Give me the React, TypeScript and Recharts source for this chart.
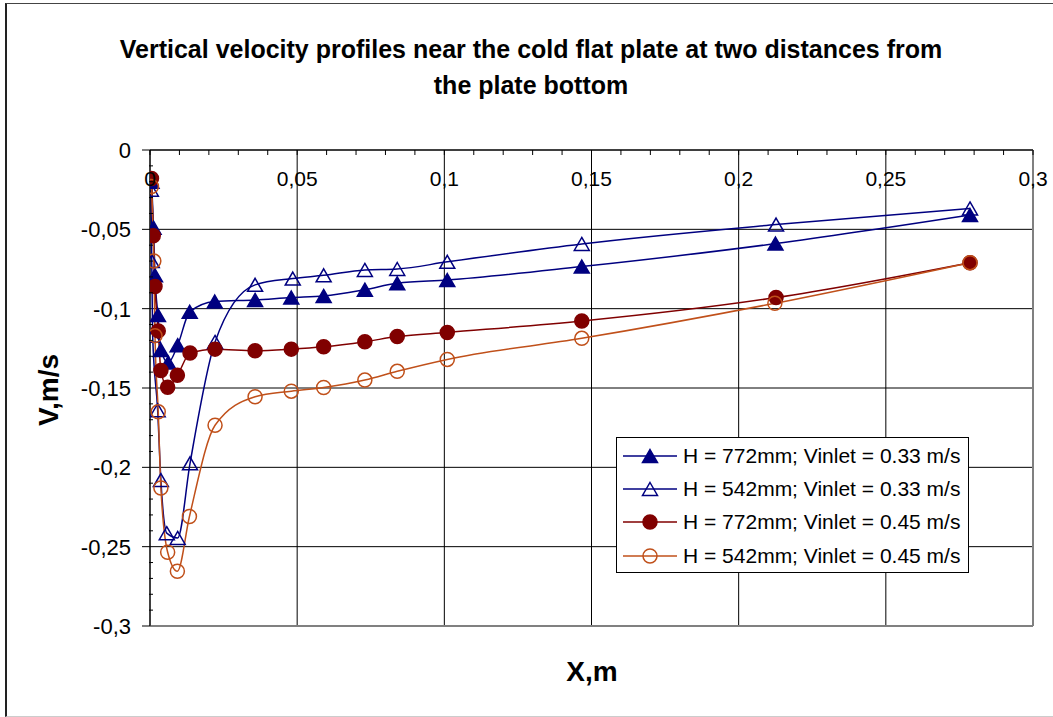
import React from "react";
import {
    LineChart,
    Line,
    XAxis,
    YAxis,
    CartesianGrid,
    Legend,
    ReferenceLine,
} from "recharts";

const FONT = "Arial, 'Liberation Sans', sans-serif";

// H = 772mm, Vinlet = 0.33 m/s
const h772v033 = [
    { x: 0.0005, v: -0.02 },
    { x: 0.0012, v: -0.049 },
    { x: 0.0017, v: -0.079 },
    { x: 0.0027, v: -0.104 },
    { x: 0.0037, v: -0.126 },
    { x: 0.0062, v: -0.134 },
    { x: 0.0094, v: -0.123 },
    { x: 0.0135, v: -0.102 },
    { x: 0.022, v: -0.0955 },
    { x: 0.0357, v: -0.0945 },
    { x: 0.048, v: -0.093 },
    { x: 0.059, v: -0.092 },
    { x: 0.073, v: -0.088 },
    { x: 0.084, v: -0.084 },
    { x: 0.101, v: -0.082 },
    { x: 0.1467, v: -0.0735 },
    { x: 0.2125, v: -0.059 },
    { x: 0.2786, v: -0.041 },
];

// H = 542mm, Vinlet = 0.33 m/s
const h542v033 = [
    { x: 0.0003, v: -0.025 },
    { x: 0.0006, v: -0.07 },
    { x: 0.0009, v: -0.117 },
    { x: 0.0026, v: -0.164 },
    { x: 0.0037, v: -0.208 },
    { x: 0.0057, v: -0.2415 },
    { x: 0.0094, v: -0.2445 },
    { x: 0.0136, v: -0.1975 },
    { x: 0.0221, v: -0.121 },
    { x: 0.0357, v: -0.085 },
    { x: 0.0485, v: -0.081 },
    { x: 0.059, v: -0.079 },
    { x: 0.073, v: -0.0756 },
    { x: 0.084, v: -0.075 },
    { x: 0.101, v: -0.0705 },
    { x: 0.1467, v: -0.0592 },
    { x: 0.2127, v: -0.047 },
    { x: 0.2786, v: -0.0368 },
];

// H = 772mm, Vinlet = 0.45 m/s
const h772v045 = [
    { x: 0.0005, v: -0.018 },
    { x: 0.0011, v: -0.054 },
    { x: 0.0017, v: -0.086 },
    { x: 0.0028, v: -0.114 },
    { x: 0.0037, v: -0.139 },
    { x: 0.006, v: -0.1495 },
    { x: 0.0093, v: -0.142 },
    { x: 0.0136, v: -0.128 },
    { x: 0.0221, v: -0.1255 },
    { x: 0.0357, v: -0.1265 },
    { x: 0.048, v: -0.1255 },
    { x: 0.059, v: -0.124 },
    { x: 0.073, v: -0.1208 },
    { x: 0.084, v: -0.1176 },
    { x: 0.101, v: -0.115 },
    { x: 0.1467, v: -0.1078 },
    { x: 0.2127, v: -0.093 },
    { x: 0.2786, v: -0.071 },
];

// H = 542mm, Vinlet = 0.45 m/s
const h542v045 = [
    { x: 0.0005, v: -0.023 },
    { x: 0.0013, v: -0.07 },
    { x: 0.0017, v: -0.117 },
    { x: 0.0028, v: -0.165 },
    { x: 0.0037, v: -0.213 },
    { x: 0.006, v: -0.2535 },
    { x: 0.0093, v: -0.2655 },
    { x: 0.0134, v: -0.231 },
    { x: 0.0221, v: -0.1735 },
    { x: 0.0357, v: -0.1555 },
    { x: 0.048, v: -0.152 },
    { x: 0.059, v: -0.1497 },
    { x: 0.073, v: -0.145 },
    { x: 0.084, v: -0.1395 },
    { x: 0.101, v: -0.132 },
    { x: 0.1467, v: -0.1187 },
    { x: 0.2123, v: -0.0966 },
    { x: 0.2786, v: -0.071 },
];

// major ticks (labels + gridlines)
const xTicks = [0, 0.05, 0.1, 0.15, 0.2, 0.25, 0.3];
const yTicks = [0, -0.05, -0.1, -0.15, -0.2, -0.25, -0.3];
// all ticks, major + minor
const xAllTicks = [
    0, 0.01, 0.02, 0.03, 0.04, 0.05, 0.06, 0.07, 0.08, 0.09, 0.1,
    0.11, 0.12, 0.13, 0.14, 0.15, 0.16, 0.17, 0.18, 0.19, 0.2,
    0.21, 0.22, 0.23, 0.24, 0.25, 0.26, 0.27, 0.28, 0.29, 0.3,
];
const yAllTicks = [
    0, -0.01, -0.02, -0.03, -0.04, -0.05, -0.06, -0.07, -0.08, -0.09, -0.1,
    -0.11, -0.12, -0.13, -0.14, -0.15, -0.16, -0.17, -0.18, -0.19, -0.2,
    -0.21, -0.22, -0.23, -0.24, -0.25, -0.26, -0.27, -0.28, -0.29, -0.3,
];

type Marker = "triangle" | "circle";

const SERIES = [
    { name: "H = 772mm; Vinlet = 0.33 m/s", data: h772v033, color: "#000080", marker: "triangle" as Marker, filled: true },
    { name: "H = 542mm; Vinlet = 0.33 m/s", data: h542v033, color: "#000080", marker: "triangle" as Marker, filled: false },
    { name: "H = 772mm; Vinlet = 0.45 m/s", data: h772v045, color: "#800000", marker: "circle" as Marker, filled: true },
    { name: "H = 542mm; Vinlet = 0.45 m/s", data: h542v045, color: "#C0501A", marker: "circle" as Marker, filled: false },
];

const fmt = (v: number) => (v === 0 ? "0" : String(v).replace(".", ","));
const isMajor = (v: number) => Math.abs(v * 20 - Math.round(v * 20)) < 1e-6;

const MarkerShape = ({ cx, cy, marker, color, filled }: any) => {
    const fill = filled ? color : "none";
    if (marker === "triangle") {
        const w = 7.5;
        const h = 6.5;
        return (
            <polygon
                points={`${cx},${cy - h} ${cx + w},${cy + h} ${cx - w},${cy + h}`}
                fill={fill}
                stroke={color}
                strokeWidth={1.5}
            />
        );
    }
    return <circle cx={cx} cy={cy} r={7} fill={fill} stroke={color} strokeWidth={1.5} />;
};

// top axis: short ticks pointing down, labels under the axis line
const XTick = ({ x, y, payload }: any) => (
    <g>
        <line x1={x} y1={y} x2={x} y2={y + 5} stroke="#000" />
        {isMajor(payload.value) && (
            <text x={x} y={y + 36} textAnchor="middle" fontSize={21} fontFamily={FONT} fill="#000">
                {fmt(payload.value)}
            </text>
        )}
    </g>
);

const YTick = ({ x, y, payload }: any) => {
    if (!isMajor(payload.value)) {
        return <line x1={x - 1} y1={y} x2={x + 3} y2={y} stroke="#000" />;
    }
    return (
        <g>
            <line x1={x - 8} y1={y} x2={x} y2={y} stroke="#000" />
            <text x={x - 19} y={y + 8} textAnchor="end" fontSize={22} fontFamily={FONT} fill="#000">
                {fmt(payload.value)}
            </text>
        </g>
    );
};

const renderLegend = () => (
    <div
        style={{
            width: 353,
            height: 136,
            boxSizing: "border-box",
            border: "1px solid #000",
            background: "#fff",
            paddingTop: 1,
            fontFamily: FONT,
        }}
    >
        {SERIES.map((s) => (
            <div key={s.name} style={{ display: "flex", alignItems: "center", height: 33.4 }}>
                <svg width={66} height={24} style={{ flex: "none" }}>
                    <line x1={6} y1={12} x2={60} y2={12} stroke={s.color} strokeWidth={1.5} />
                    <MarkerShape cx={33} cy={12} marker={s.marker} color={s.color} filled={s.filled} />
                </svg>
                <span style={{ fontSize: 21, color: "#000", whiteSpace: "nowrap" }}>{s.name}</span>
            </div>
        ))}
    </div>
);

export default function App() {
    return (
        <div style={{ position: "absolute", left: 0, top: 0, width: 1053, height: 717, background: "#fff" }}>
            <div
                style={{
                    position: "absolute",
                    left: 5,
                    top: 3,
                    width: 1046,
                    height: 712,
                    borderLeft: "2px solid #222",
                    borderTop: "1px solid #444",
                    borderBottom: "1px solid #ccc",
                }}
            />
            <div
                style={{
                    position: "absolute",
                    left: 0,
                    top: 31,
                    width: 1062,
                    textAlign: "center",
                    fontFamily: FONT,
                    fontWeight: "bold",
                    fontSize: 25,
                    lineHeight: "36px",
                    color: "#000",
                }}
            >
                Vertical velocity profiles near the cold flat plate at two distances from
                <br />
                the plate bottom
            </div>
            <div
                style={{
                    position: "absolute",
                    left: 49,
                    top: 390,
                    transform: "translate(-50%, -50%) rotate(-90deg)",
                    fontFamily: FONT,
                    fontWeight: "bold",
                    fontSize: 28,
                    whiteSpace: "nowrap",
                }}
            >
                V,m/s
            </div>
            <div
                style={{
                    position: "absolute",
                    left: 592,
                    top: 672,
                    transform: "translate(-50%, -50%)",
                    fontFamily: FONT,
                    fontWeight: "bold",
                    fontSize: 28,
                    whiteSpace: "nowrap",
                }}
            >
                X,m
            </div>
            <div style={{ position: "absolute", left: 0, top: 0 }}>
                <LineChart
                    width={1053}
                    height={717}
                    margin={{ top: 120, left: 0, right: 20, bottom: 91 }}
                >
                    <CartesianGrid
                        stroke="#000"
                        strokeWidth={1}
                        verticalValues={xTicks}
                        horizontalValues={yTicks}
                    />
                    <XAxis
                        dataKey="x"
                        type="number"
                        orientation="top"
                        domain={[0, 0.3]}
                        ticks={xAllTicks}
                        interval={0}
                        height={30}
                        tickSize={0}
                        tickMargin={0}
                        tickLine={false}
                        tick={<XTick />}
                        axisLine={{ stroke: "#000" }}
                        allowDataOverflow
                    />
                    <YAxis
                        type="number"
                        domain={[-0.3, 0]}
                        ticks={yAllTicks}
                        interval={0}
                        width={150}
                        tickSize={0}
                        tickMargin={0}
                        tickLine={false}
                        tick={<YTick />}
                        axisLine={{ stroke: "#000" }}
                        allowDataOverflow
                    />
                    <ReferenceLine x={0.3} stroke="#808080" strokeWidth={2} />
                    <ReferenceLine y={-0.3} stroke="#808080" strokeWidth={2} />
                    {SERIES.map((s) => (
                        <Line
                            key={s.name}
                            data={s.data}
                            dataKey="v"
                            name={s.name}
                            type="monotone"
                            stroke={s.color}
                            strokeWidth={1.5}
                            isAnimationActive={false}
                            activeDot={false}
                            dot={(props: any) => {
                                const { key, cx, cy } = props;
                                return (
                                    <MarkerShape
                                        key={key}
                                        cx={cx}
                                        cy={cy}
                                        marker={s.marker}
                                        color={s.color}
                                        filled={s.filled}
                                    />
                                );
                            }}
                        />
                    ))}
                    <Legend
                        layout="horizontal"
                        verticalAlign="middle"
                        align="center"
                        content={renderLegend}
                        wrapperStyle={{ left: 616, top: 437, width: 353, height: 136 }}
                    />
                </LineChart>
            </div>
        </div>
    );
}
